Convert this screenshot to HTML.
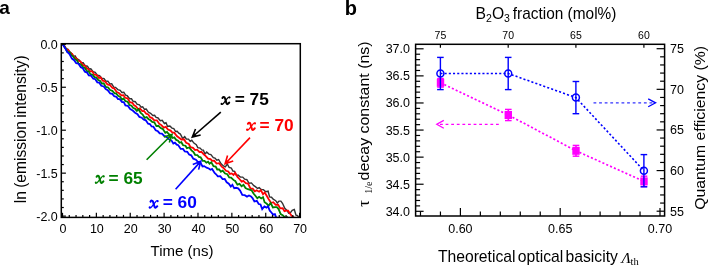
<!DOCTYPE html>
<html><head><meta charset="utf-8"><style>
html,body{margin:0;padding:0;background:#fff;width:709px;height:266px;overflow:hidden;}
svg{display:block;filter:blur(0.3px);font-family:"Liberation Sans", sans-serif;}
</style></head><body>
<svg width="709" height="266" viewBox="0 0 709 266">
<rect width="709" height="266" fill="#fff"/>
<text x="-0.70" y="14.30" font-size="19" text-anchor="start" font-weight="bold" font-family='"Liberation Sans", sans-serif' fill="#000" >a</text>
<defs><clipPath id="clipa"><rect x="61.3" y="43.7" width="239.0" height="173.7"/></clipPath></defs>
<polyline clip-path="url(#clipa)" points="62.6,44.2 63.9,44.7 65.9,48.3 68.0,49.3 69.5,51.8 71.1,52.8 73.6,56.3 75.1,55.8 76.8,58.6 79.2,60.0 81.3,62.8 83.2,62.7 85.2,65.8 87.4,66.2 89.2,69.0 90.8,68.7 93.1,71.7 95.2,72.4 97.3,75.2 99.6,75.7 101.6,78.2 104.1,78.7 105.8,81.1 107.9,81.2 109.8,83.9 111.7,83.8 113.8,87.1 115.5,87.3 117.8,89.6 120.2,90.4 121.8,92.4 123.8,92.2 125.6,95.2 127.2,95.7 129.6,98.8 131.5,98.8 133.1,101.3 135.3,101.7 137.0,104.2 139.4,104.9 141.1,107.2 142.7,106.8 144.4,109.3 146.2,109.0 148.2,112.0 150.6,113.3 152.8,115.5 154.6,115.3 156.1,117.4 157.8,117.7 160.3,120.8 162.2,120.4 164.4,123.5 166.0,122.7 167.5,126.3 169.9,126.0 172.0,128.1 173.8,128.6 175.6,131.5 177.2,131.2 178.8,133.1 180.4,134.1 182.7,138.5 184.7,136.5 186.3,139.0 188.5,139.1 190.2,141.4 191.8,140.3 193.9,143.1 196.3,144.7 197.8,147.6 200.1,148.1 201.8,149.9 203.4,150.2 204.9,154.0 206.7,152.0 208.9,154.1 210.9,154.6 213.3,157.6 215.0,158.1 216.8,160.1 218.6,159.5 221.1,163.8 223.5,166.0 225.3,166.9 227.3,164.0 229.1,167.3 231.3,168.0 232.9,171.0 234.5,171.3 236.4,175.4 238.1,175.1 240.4,177.0 242.7,177.1 244.7,179.2 246.9,179.7 249.1,183.3 251.4,182.9 253.8,185.6 255.4,186.6 257.6,188.5 259.2,187.7 261.2,189.5 263.4,189.6 265.8,191.7 268.1,191.2 269.6,196.9 271.5,197.2 273.2,199.2 275.7,200.7 277.3,203.0 279.0,201.1 280.9,201.1 282.5,203.3 284.8,208.3 287.0,210.4 288.6,213.2 290.6,212.4 292.2,210.3 294.3,209.5 296.0,215.1 297.6,215.6 299.2,218.4 301.3,218.1" fill="none" stroke="#333" stroke-width="1.4" stroke-linejoin="miter" stroke-opacity="1.0"/>
<polyline clip-path="url(#clipa)" points="62.6,44.2 64.2,45.8 66.7,49.7 68.5,50.2 70.3,53.2 72.2,54.0 74.0,57.2 76.3,58.5 78.0,60.6 80.5,61.5 83.0,65.3 84.6,65.3 86.7,68.3 88.4,69.2 90.3,71.3 92.3,71.3 94.3,74.6 96.4,74.9 98.9,77.9 100.8,77.5 102.6,80.7 104.8,81.2 107.4,84.4 110.0,85.1 112.5,88.0 114.1,88.3 116.7,92.0 118.9,93.0 121.4,95.3 123.4,95.1 125.2,97.8 127.6,98.4 129.9,102.2 132.3,102.8 134.1,105.3 135.8,106.1 138.2,109.2 139.8,108.4 142.3,111.1 144.0,111.0 146.2,113.7 148.3,114.4 150.2,117.4 151.9,117.8 154.3,120.3 156.9,120.3 159.2,123.7 161.4,125.1 163.7,127.6 165.9,126.9 168.0,129.6 170.6,130.6 172.4,132.6 174.2,132.6 176.8,136.1 179.4,138.0 181.4,139.5 183.9,139.3 186.2,142.8 188.8,144.0 190.4,147.0 193.0,147.8 195.1,150.1 197.1,149.7 199.4,152.0 201.6,151.9 203.7,154.3 205.5,155.8 208.1,158.6 210.5,159.1 212.2,160.9 214.2,160.7 216.6,163.6 219.1,163.2 221.7,166.7 223.5,167.9 226.0,170.8 228.3,171.5 229.9,173.9 231.7,173.4 233.5,174.9 235.2,172.8 237.5,177.0 239.4,179.0 241.7,181.6 243.3,180.9 245.8,183.1 248.1,183.6 250.5,188.6 252.7,188.7 254.8,191.4 256.6,190.3 259.1,191.7 260.9,190.1 263.0,194.3 264.7,192.5 266.4,195.3 268.7,199.2 271.2,203.0 273.3,202.2 275.7,204.8 278.1,204.7 280.3,208.4 282.7,208.2 284.5,211.2 286.3,210.7 288.1,210.7 289.6,213.1 291.3,215.3 293.6,217.4 296.2,220.5 297.8,218.5 300.1,222.8" fill="none" stroke="#ff0000" stroke-width="1.8" stroke-linejoin="miter" stroke-opacity="1.0"/>
<polyline clip-path="url(#clipa)" points="62.6,44.2 65.2,47.7 67.4,51.8 69.6,52.1 71.3,55.2 72.8,56.1 75.1,59.4 77.1,60.5 78.6,63.6 80.8,64.2 83.2,67.4 84.9,67.9 87.1,71.4 88.6,71.2 90.4,74.2 92.6,74.7 94.5,77.1 96.4,77.6 97.9,79.7 100.1,81.0 102.0,83.7 103.7,83.2 105.8,86.9 108.2,87.5 110.1,90.1 112.3,90.8 114.6,93.4 116.1,93.4 118.1,95.9 120.4,97.0 121.9,99.6 123.6,98.4 125.5,101.2 127.6,101.7 129.6,105.0 131.5,105.7 133.0,107.7 135.1,108.8 136.9,110.8 138.4,109.2 140.7,112.8 142.8,114.7 144.6,117.8 146.7,117.1 148.6,119.2 150.2,120.0 152.2,121.9 154.3,122.4 156.4,126.1 158.4,125.8 160.7,128.1 163.0,129.3 165.3,132.9 167.0,131.9 168.7,134.1 170.6,135.0 172.7,138.0 174.3,137.4 176.2,139.9 178.1,140.7 179.5,142.8 181.3,142.2 183.1,145.3 185.5,145.7 186.9,148.1 189.2,147.5 191.5,150.4 193.5,152.1 195.1,154.8 197.3,155.0 198.9,156.9 200.6,157.3 202.7,160.8 204.5,160.8 206.4,162.7 208.1,161.7 209.5,163.8 211.3,162.4 213.5,166.2 215.7,166.6 217.2,169.5 219.2,169.5 220.9,171.8 222.7,170.6 225.1,173.5 227.3,174.2 229.2,177.5 231.1,177.6 233.4,179.9 235.2,181.0 237.4,184.7 239.5,183.8 241.6,186.3 243.5,184.8 245.5,188.0 247.8,189.2 249.5,189.6 251.6,190.3 253.5,193.5 255.4,195.7 257.3,198.2 259.1,196.8 261.2,198.4 263.0,197.1 264.6,202.3 266.8,203.8 268.6,205.8 270.6,202.9 272.9,207.5 275.0,207.2 276.9,207.1 278.6,209.1 280.7,214.1 283.0,215.4 285.1,217.6 287.3,217.2 289.0,220.3 290.7,220.1" fill="none" stroke="#008000" stroke-width="1.8" stroke-linejoin="miter" stroke-opacity="1.0"/>
<polyline clip-path="url(#clipa)" points="62.6,44.2 65.3,48.4 67.2,51.9 69.5,54.1 71.9,58.6 74.1,60.2 76.2,63.2 78.5,63.7 80.8,67.3 82.8,68.2 84.9,71.7 87.2,72.7 88.8,75.4 91.0,75.7 93.3,78.7 95.3,79.2 97.3,82.3 99.1,82.5 101.3,85.8 103.8,86.5 105.7,89.1 107.7,90.2 110.2,93.5 112.3,93.9 114.2,96.2 116.5,96.9 118.0,99.1 119.7,99.2 122.1,102.1 123.8,102.2 125.4,105.4 127.9,105.9 130.2,109.1 132.7,110.5 135.1,112.7 137.5,114.2 139.4,116.9 141.7,117.7 143.5,119.4 145.8,120.3 148.1,123.7 149.9,124.1 151.6,126.5 153.3,126.6 155.7,130.3 157.9,131.3 159.7,133.4 161.9,133.7 164.2,135.9 166.4,136.8 169.0,139.3 171.4,140.4 173.3,143.5 174.9,142.6 176.7,144.7 178.3,145.2 180.7,148.9 183.0,148.9 184.8,151.5 187.3,151.8 189.1,154.5 191.2,155.3 193.3,158.7 195.9,159.7 198.3,162.4 200.0,161.6 202.5,166.4 204.2,166.1 206.6,167.7 208.8,168.5 210.5,169.8 212.1,169.0 214.6,173.0 216.1,174.3 217.8,176.4 220.3,176.1 222.6,179.1 224.7,179.0 226.7,182.3 228.8,183.7 230.8,186.6 232.4,184.9 234.2,188.3 236.1,187.8 238.1,188.4 240.1,190.6 242.3,194.9 244.7,195.2 247.0,196.6 249.0,195.5 251.0,196.5 252.5,198.1 254.4,201.5 256.8,200.8 258.7,204.0 260.5,204.5 262.2,209.1 264.4,206.4 266.4,207.6 268.0,206.3 269.8,210.7 271.4,212.5 273.1,214.6 274.9,214.1 276.5,218.3 279.1,218.8 281.3,222.0 282.9,220.6" fill="none" stroke="#0000ff" stroke-width="1.8" stroke-linejoin="miter" stroke-opacity="1.0"/>
<line x1="62.50" y1="217.40" x2="62.50" y2="212.80" stroke="#000" stroke-width="1.2" />
<line x1="69.27" y1="217.40" x2="69.27" y2="214.90" stroke="#000" stroke-width="1.2" />
<line x1="76.05" y1="217.40" x2="76.05" y2="214.90" stroke="#000" stroke-width="1.2" />
<line x1="82.82" y1="217.40" x2="82.82" y2="214.90" stroke="#000" stroke-width="1.2" />
<line x1="89.60" y1="217.40" x2="89.60" y2="214.90" stroke="#000" stroke-width="1.2" />
<line x1="96.37" y1="217.40" x2="96.37" y2="212.80" stroke="#000" stroke-width="1.2" />
<line x1="103.15" y1="217.40" x2="103.15" y2="214.90" stroke="#000" stroke-width="1.2" />
<line x1="109.92" y1="217.40" x2="109.92" y2="214.90" stroke="#000" stroke-width="1.2" />
<line x1="116.69" y1="217.40" x2="116.69" y2="214.90" stroke="#000" stroke-width="1.2" />
<line x1="123.47" y1="217.40" x2="123.47" y2="214.90" stroke="#000" stroke-width="1.2" />
<line x1="130.24" y1="217.40" x2="130.24" y2="212.80" stroke="#000" stroke-width="1.2" />
<line x1="137.02" y1="217.40" x2="137.02" y2="214.90" stroke="#000" stroke-width="1.2" />
<line x1="143.79" y1="217.40" x2="143.79" y2="214.90" stroke="#000" stroke-width="1.2" />
<line x1="150.57" y1="217.40" x2="150.57" y2="214.90" stroke="#000" stroke-width="1.2" />
<line x1="157.34" y1="217.40" x2="157.34" y2="214.90" stroke="#000" stroke-width="1.2" />
<line x1="164.11" y1="217.40" x2="164.11" y2="212.80" stroke="#000" stroke-width="1.2" />
<line x1="170.89" y1="217.40" x2="170.89" y2="214.90" stroke="#000" stroke-width="1.2" />
<line x1="177.66" y1="217.40" x2="177.66" y2="214.90" stroke="#000" stroke-width="1.2" />
<line x1="184.44" y1="217.40" x2="184.44" y2="214.90" stroke="#000" stroke-width="1.2" />
<line x1="191.21" y1="217.40" x2="191.21" y2="214.90" stroke="#000" stroke-width="1.2" />
<line x1="197.99" y1="217.40" x2="197.99" y2="212.80" stroke="#000" stroke-width="1.2" />
<line x1="204.76" y1="217.40" x2="204.76" y2="214.90" stroke="#000" stroke-width="1.2" />
<line x1="211.53" y1="217.40" x2="211.53" y2="214.90" stroke="#000" stroke-width="1.2" />
<line x1="218.31" y1="217.40" x2="218.31" y2="214.90" stroke="#000" stroke-width="1.2" />
<line x1="225.08" y1="217.40" x2="225.08" y2="214.90" stroke="#000" stroke-width="1.2" />
<line x1="231.86" y1="217.40" x2="231.86" y2="212.80" stroke="#000" stroke-width="1.2" />
<line x1="238.63" y1="217.40" x2="238.63" y2="214.90" stroke="#000" stroke-width="1.2" />
<line x1="245.41" y1="217.40" x2="245.41" y2="214.90" stroke="#000" stroke-width="1.2" />
<line x1="252.18" y1="217.40" x2="252.18" y2="214.90" stroke="#000" stroke-width="1.2" />
<line x1="258.95" y1="217.40" x2="258.95" y2="214.90" stroke="#000" stroke-width="1.2" />
<line x1="265.73" y1="217.40" x2="265.73" y2="212.80" stroke="#000" stroke-width="1.2" />
<line x1="272.50" y1="217.40" x2="272.50" y2="214.90" stroke="#000" stroke-width="1.2" />
<line x1="279.28" y1="217.40" x2="279.28" y2="214.90" stroke="#000" stroke-width="1.2" />
<line x1="286.05" y1="217.40" x2="286.05" y2="214.90" stroke="#000" stroke-width="1.2" />
<line x1="292.83" y1="217.40" x2="292.83" y2="214.90" stroke="#000" stroke-width="1.2" />
<line x1="299.60" y1="217.40" x2="299.60" y2="212.80" stroke="#000" stroke-width="1.2" />
<line x1="61.30" y1="44.30" x2="65.90" y2="44.30" stroke="#000" stroke-width="1.2" />
<line x1="61.30" y1="52.89" x2="63.80" y2="52.89" stroke="#000" stroke-width="1.2" />
<line x1="61.30" y1="61.48" x2="63.80" y2="61.48" stroke="#000" stroke-width="1.2" />
<line x1="61.30" y1="70.07" x2="63.80" y2="70.07" stroke="#000" stroke-width="1.2" />
<line x1="61.30" y1="78.66" x2="63.80" y2="78.66" stroke="#000" stroke-width="1.2" />
<line x1="61.30" y1="87.25" x2="65.90" y2="87.25" stroke="#000" stroke-width="1.2" />
<line x1="61.30" y1="95.84" x2="63.80" y2="95.84" stroke="#000" stroke-width="1.2" />
<line x1="61.30" y1="104.43" x2="63.80" y2="104.43" stroke="#000" stroke-width="1.2" />
<line x1="61.30" y1="113.02" x2="63.80" y2="113.02" stroke="#000" stroke-width="1.2" />
<line x1="61.30" y1="121.61" x2="63.80" y2="121.61" stroke="#000" stroke-width="1.2" />
<line x1="61.30" y1="130.20" x2="65.90" y2="130.20" stroke="#000" stroke-width="1.2" />
<line x1="61.30" y1="138.79" x2="63.80" y2="138.79" stroke="#000" stroke-width="1.2" />
<line x1="61.30" y1="147.38" x2="63.80" y2="147.38" stroke="#000" stroke-width="1.2" />
<line x1="61.30" y1="155.97" x2="63.80" y2="155.97" stroke="#000" stroke-width="1.2" />
<line x1="61.30" y1="164.56" x2="63.80" y2="164.56" stroke="#000" stroke-width="1.2" />
<line x1="61.30" y1="173.15" x2="65.90" y2="173.15" stroke="#000" stroke-width="1.2" />
<line x1="61.30" y1="181.74" x2="63.80" y2="181.74" stroke="#000" stroke-width="1.2" />
<line x1="61.30" y1="190.33" x2="63.80" y2="190.33" stroke="#000" stroke-width="1.2" />
<line x1="61.30" y1="198.92" x2="63.80" y2="198.92" stroke="#000" stroke-width="1.2" />
<line x1="61.30" y1="207.51" x2="63.80" y2="207.51" stroke="#000" stroke-width="1.2" />
<line x1="61.30" y1="216.10" x2="65.90" y2="216.10" stroke="#000" stroke-width="1.2" />
<rect x="61.30" y="43.70" width="239.00" height="173.70" fill="none" stroke="#000" stroke-width="1.5"/>
<text x="63.00" y="232.90" font-size="12.5" text-anchor="middle" font-weight="normal" font-family='"Liberation Sans", sans-serif' fill="#000" >0</text>
<text x="96.87" y="232.90" font-size="12.5" text-anchor="middle" font-weight="normal" font-family='"Liberation Sans", sans-serif' fill="#000" >10</text>
<text x="130.74" y="232.90" font-size="12.5" text-anchor="middle" font-weight="normal" font-family='"Liberation Sans", sans-serif' fill="#000" >20</text>
<text x="164.61" y="232.90" font-size="12.5" text-anchor="middle" font-weight="normal" font-family='"Liberation Sans", sans-serif' fill="#000" >30</text>
<text x="198.49" y="232.90" font-size="12.5" text-anchor="middle" font-weight="normal" font-family='"Liberation Sans", sans-serif' fill="#000" >40</text>
<text x="232.36" y="232.90" font-size="12.5" text-anchor="middle" font-weight="normal" font-family='"Liberation Sans", sans-serif' fill="#000" >50</text>
<text x="266.23" y="232.90" font-size="12.5" text-anchor="middle" font-weight="normal" font-family='"Liberation Sans", sans-serif' fill="#000" >60</text>
<text x="300.10" y="232.90" font-size="12.5" text-anchor="middle" font-weight="normal" font-family='"Liberation Sans", sans-serif' fill="#000" >70</text>
<text x="57.80" y="48.70" font-size="12.5" text-anchor="end" font-weight="normal" font-family='"Liberation Sans", sans-serif' fill="#000" >0.0</text>
<text x="57.80" y="91.65" font-size="12.5" text-anchor="end" font-weight="normal" font-family='"Liberation Sans", sans-serif' fill="#000" >-0.5</text>
<text x="57.80" y="134.60" font-size="12.5" text-anchor="end" font-weight="normal" font-family='"Liberation Sans", sans-serif' fill="#000" >-1.0</text>
<text x="57.80" y="177.55" font-size="12.5" text-anchor="end" font-weight="normal" font-family='"Liberation Sans", sans-serif' fill="#000" >-1.5</text>
<text x="57.80" y="220.50" font-size="12.5" text-anchor="end" font-weight="normal" font-family='"Liberation Sans", sans-serif' fill="#000" >-2.0</text>
<text x="182.00" y="255.60" font-size="15" text-anchor="middle" font-weight="normal" font-family='"Liberation Sans", sans-serif' fill="#000" >Time (ns)</text>
<text transform="translate(25.9,203.3) rotate(-90)" font-size="15.6" word-spacing="-1.0" font-family='"Liberation Sans", sans-serif' fill="#000">ln (emission intensity)</text>
<g transform="translate(220.50,96.30)"><path d="M1.9,1.7 C2.8,0.3 4.0,0.4 4.5,2.0 L5.9,6.8 C6.3,8.3 7.3,8.2 8.7,6.3" fill="none" stroke="#000" stroke-width="2.0" stroke-linecap="round"/><path d="M9.2,1.0 C8.4,0.5 7.5,1.2 6.6,2.4 L3.0,7.0 C2.3,7.9 1.6,8.3 0.9,7.9" fill="none" stroke="#000" stroke-width="1.25" stroke-linecap="round"/><circle cx="9.0" cy="1.3" r="1.0" fill="#000"/><circle cx="1.1" cy="7.5" r="1.05" fill="#000"/></g>
<text x="234.70" y="104.70" font-size="17.3" font-weight="bold" font-family='"Liberation Sans", sans-serif' fill="#000">= 75</text>
<line x1="220.80" y1="112.20" x2="193.43" y2="136.02" stroke="#000" stroke-width="1.6" />
<polyline points="195.52,129.02 192.30,137.00 200.64,134.92" fill="none" stroke="#000" stroke-width="1.6" stroke-linejoin="miter" stroke-miterlimit="10"/>
<polygon points="193.98,132.83 192.30,137.00 196.67,135.91" fill="#000"/>
<g transform="translate(246.00,122.10)"><path d="M1.9,1.7 C2.8,0.3 4.0,0.4 4.5,2.0 L5.9,6.8 C6.3,8.3 7.3,8.2 8.7,6.3" fill="none" stroke="#ff0000" stroke-width="2.0" stroke-linecap="round"/><path d="M9.2,1.0 C8.4,0.5 7.5,1.2 6.6,2.4 L3.0,7.0 C2.3,7.9 1.6,8.3 0.9,7.9" fill="none" stroke="#ff0000" stroke-width="1.25" stroke-linecap="round"/><circle cx="9.0" cy="1.3" r="1.0" fill="#ff0000"/><circle cx="1.1" cy="7.5" r="1.05" fill="#ff0000"/></g>
<text x="259.60" y="130.50" font-size="17.3" font-weight="bold" font-family='"Liberation Sans", sans-serif' fill="#ff0000">= 70</text>
<line x1="250.00" y1="137.60" x2="226.13" y2="162.71" stroke="#ff0000" stroke-width="1.6" />
<polyline points="227.55,155.56 225.10,163.80 233.21,160.94" fill="none" stroke="#ff0000" stroke-width="1.6" stroke-linejoin="miter" stroke-miterlimit="10"/>
<polygon points="226.38,159.49 225.10,163.80 229.34,162.30" fill="#ff0000"/>
<g transform="translate(94.70,175.10)"><path d="M1.9,1.7 C2.8,0.3 4.0,0.4 4.5,2.0 L5.9,6.8 C6.3,8.3 7.3,8.2 8.7,6.3" fill="none" stroke="#008000" stroke-width="2.0" stroke-linecap="round"/><path d="M9.2,1.0 C8.4,0.5 7.5,1.2 6.6,2.4 L3.0,7.0 C2.3,7.9 1.6,8.3 0.9,7.9" fill="none" stroke="#008000" stroke-width="1.25" stroke-linecap="round"/><circle cx="9.0" cy="1.3" r="1.0" fill="#008000"/><circle cx="1.1" cy="7.5" r="1.05" fill="#008000"/></g>
<text x="108.60" y="183.50" font-size="17.3" font-weight="bold" font-family='"Liberation Sans", sans-serif' fill="#008000">= 65</text>
<line x1="146.60" y1="159.70" x2="170.94" y2="135.46" stroke="#008000" stroke-width="1.6" />
<polyline points="169.33,142.57 172.00,134.40 163.82,137.04" fill="none" stroke="#008000" stroke-width="1.6" stroke-linejoin="miter" stroke-miterlimit="10"/>
<polygon points="170.60,138.68 172.00,134.40 167.72,135.78" fill="#008000"/>
<g transform="translate(148.60,199.90)"><path d="M1.9,1.7 C2.8,0.3 4.0,0.4 4.5,2.0 L5.9,6.8 C6.3,8.3 7.3,8.2 8.7,6.3" fill="none" stroke="#0000ff" stroke-width="2.0" stroke-linecap="round"/><path d="M9.2,1.0 C8.4,0.5 7.5,1.2 6.6,2.4 L3.0,7.0 C2.3,7.9 1.6,8.3 0.9,7.9" fill="none" stroke="#0000ff" stroke-width="1.25" stroke-linecap="round"/><circle cx="9.0" cy="1.3" r="1.0" fill="#0000ff"/><circle cx="1.1" cy="7.5" r="1.05" fill="#0000ff"/></g>
<text x="162.70" y="208.30" font-size="17.3" font-weight="bold" font-family='"Liberation Sans", sans-serif' fill="#0000ff">= 60</text>
<line x1="175.60" y1="189.30" x2="199.80" y2="162.41" stroke="#0000ff" stroke-width="1.6" />
<polyline points="198.58,169.61 200.80,161.30 192.77,164.38" fill="none" stroke="#0000ff" stroke-width="1.6" stroke-linejoin="miter" stroke-miterlimit="10"/>
<polygon points="199.64,165.65 200.80,161.30 196.60,162.91" fill="#0000ff"/>
<text x="344.70" y="14.70" font-size="20" text-anchor="start" font-weight="bold" font-family='"Liberation Sans", sans-serif' fill="#000" >b</text>
<rect x="415.60" y="44.30" width="249.00" height="171.70" fill="none" stroke="#000" stroke-width="1.5"/>
<line x1="415.60" y1="211.31" x2="423.60" y2="211.31" stroke="#000" stroke-width="1.2" />
<line x1="415.60" y1="205.89" x2="420.10" y2="205.89" stroke="#000" stroke-width="1.2" />
<line x1="415.60" y1="200.48" x2="420.10" y2="200.48" stroke="#000" stroke-width="1.2" />
<line x1="415.60" y1="195.06" x2="420.10" y2="195.06" stroke="#000" stroke-width="1.2" />
<line x1="415.60" y1="189.64" x2="420.10" y2="189.64" stroke="#000" stroke-width="1.2" />
<line x1="415.60" y1="184.23" x2="423.60" y2="184.23" stroke="#000" stroke-width="1.2" />
<line x1="415.60" y1="178.81" x2="420.10" y2="178.81" stroke="#000" stroke-width="1.2" />
<line x1="415.60" y1="173.39" x2="420.10" y2="173.39" stroke="#000" stroke-width="1.2" />
<line x1="415.60" y1="167.97" x2="420.10" y2="167.97" stroke="#000" stroke-width="1.2" />
<line x1="415.60" y1="162.56" x2="420.10" y2="162.56" stroke="#000" stroke-width="1.2" />
<line x1="415.60" y1="157.14" x2="423.60" y2="157.14" stroke="#000" stroke-width="1.2" />
<line x1="415.60" y1="151.72" x2="420.10" y2="151.72" stroke="#000" stroke-width="1.2" />
<line x1="415.60" y1="146.31" x2="420.10" y2="146.31" stroke="#000" stroke-width="1.2" />
<line x1="415.60" y1="140.89" x2="420.10" y2="140.89" stroke="#000" stroke-width="1.2" />
<line x1="415.60" y1="135.47" x2="420.10" y2="135.47" stroke="#000" stroke-width="1.2" />
<line x1="415.60" y1="130.06" x2="423.60" y2="130.06" stroke="#000" stroke-width="1.2" />
<line x1="415.60" y1="124.64" x2="420.10" y2="124.64" stroke="#000" stroke-width="1.2" />
<line x1="415.60" y1="119.22" x2="420.10" y2="119.22" stroke="#000" stroke-width="1.2" />
<line x1="415.60" y1="113.80" x2="420.10" y2="113.80" stroke="#000" stroke-width="1.2" />
<line x1="415.60" y1="108.39" x2="420.10" y2="108.39" stroke="#000" stroke-width="1.2" />
<line x1="415.60" y1="102.97" x2="423.60" y2="102.97" stroke="#000" stroke-width="1.2" />
<line x1="415.60" y1="97.55" x2="420.10" y2="97.55" stroke="#000" stroke-width="1.2" />
<line x1="415.60" y1="92.14" x2="420.10" y2="92.14" stroke="#000" stroke-width="1.2" />
<line x1="415.60" y1="86.72" x2="420.10" y2="86.72" stroke="#000" stroke-width="1.2" />
<line x1="415.60" y1="81.30" x2="420.10" y2="81.30" stroke="#000" stroke-width="1.2" />
<line x1="415.60" y1="75.88" x2="423.60" y2="75.88" stroke="#000" stroke-width="1.2" />
<line x1="415.60" y1="70.47" x2="420.10" y2="70.47" stroke="#000" stroke-width="1.2" />
<line x1="415.60" y1="65.05" x2="420.10" y2="65.05" stroke="#000" stroke-width="1.2" />
<line x1="415.60" y1="59.63" x2="420.10" y2="59.63" stroke="#000" stroke-width="1.2" />
<line x1="415.60" y1="54.22" x2="420.10" y2="54.22" stroke="#000" stroke-width="1.2" />
<line x1="415.60" y1="48.80" x2="423.60" y2="48.80" stroke="#000" stroke-width="1.2" />
<line x1="664.60" y1="211.20" x2="656.60" y2="211.20" stroke="#000" stroke-width="1.2" />
<line x1="664.60" y1="203.07" x2="660.10" y2="203.07" stroke="#000" stroke-width="1.2" />
<line x1="664.60" y1="194.95" x2="660.10" y2="194.95" stroke="#000" stroke-width="1.2" />
<line x1="664.60" y1="186.82" x2="660.10" y2="186.82" stroke="#000" stroke-width="1.2" />
<line x1="664.60" y1="178.70" x2="660.10" y2="178.70" stroke="#000" stroke-width="1.2" />
<line x1="664.60" y1="170.57" x2="656.60" y2="170.57" stroke="#000" stroke-width="1.2" />
<line x1="664.60" y1="162.45" x2="660.10" y2="162.45" stroke="#000" stroke-width="1.2" />
<line x1="664.60" y1="154.32" x2="660.10" y2="154.32" stroke="#000" stroke-width="1.2" />
<line x1="664.60" y1="146.20" x2="660.10" y2="146.20" stroke="#000" stroke-width="1.2" />
<line x1="664.60" y1="138.07" x2="660.10" y2="138.07" stroke="#000" stroke-width="1.2" />
<line x1="664.60" y1="129.95" x2="656.60" y2="129.95" stroke="#000" stroke-width="1.2" />
<line x1="664.60" y1="121.83" x2="660.10" y2="121.83" stroke="#000" stroke-width="1.2" />
<line x1="664.60" y1="113.70" x2="660.10" y2="113.70" stroke="#000" stroke-width="1.2" />
<line x1="664.60" y1="105.58" x2="660.10" y2="105.58" stroke="#000" stroke-width="1.2" />
<line x1="664.60" y1="97.45" x2="660.10" y2="97.45" stroke="#000" stroke-width="1.2" />
<line x1="664.60" y1="89.33" x2="656.60" y2="89.33" stroke="#000" stroke-width="1.2" />
<line x1="664.60" y1="81.20" x2="660.10" y2="81.20" stroke="#000" stroke-width="1.2" />
<line x1="664.60" y1="73.08" x2="660.10" y2="73.08" stroke="#000" stroke-width="1.2" />
<line x1="664.60" y1="64.95" x2="660.10" y2="64.95" stroke="#000" stroke-width="1.2" />
<line x1="664.60" y1="56.83" x2="660.10" y2="56.83" stroke="#000" stroke-width="1.2" />
<line x1="664.60" y1="48.70" x2="656.60" y2="48.70" stroke="#000" stroke-width="1.2" />
<line x1="420.48" y1="216.00" x2="420.48" y2="211.50" stroke="#000" stroke-width="1.2" />
<line x1="440.44" y1="216.00" x2="440.44" y2="211.50" stroke="#000" stroke-width="1.2" />
<line x1="460.40" y1="216.00" x2="460.40" y2="208.00" stroke="#000" stroke-width="1.2" />
<line x1="480.36" y1="216.00" x2="480.36" y2="211.50" stroke="#000" stroke-width="1.2" />
<line x1="500.32" y1="216.00" x2="500.32" y2="211.50" stroke="#000" stroke-width="1.2" />
<line x1="520.28" y1="216.00" x2="520.28" y2="211.50" stroke="#000" stroke-width="1.2" />
<line x1="540.24" y1="216.00" x2="540.24" y2="211.50" stroke="#000" stroke-width="1.2" />
<line x1="560.20" y1="216.00" x2="560.20" y2="208.00" stroke="#000" stroke-width="1.2" />
<line x1="580.16" y1="216.00" x2="580.16" y2="211.50" stroke="#000" stroke-width="1.2" />
<line x1="600.12" y1="216.00" x2="600.12" y2="211.50" stroke="#000" stroke-width="1.2" />
<line x1="620.08" y1="216.00" x2="620.08" y2="211.50" stroke="#000" stroke-width="1.2" />
<line x1="640.04" y1="216.00" x2="640.04" y2="211.50" stroke="#000" stroke-width="1.2" />
<line x1="660.00" y1="216.00" x2="660.00" y2="208.00" stroke="#000" stroke-width="1.2" />
<line x1="440.40" y1="44.30" x2="440.40" y2="47.80" stroke="#000" stroke-width="1.2" />
<text x="440.40" y="38.60" font-size="10.5" text-anchor="middle" font-weight="normal" font-family='"Liberation Sans", sans-serif' fill="#000" >75</text>
<line x1="508.20" y1="44.30" x2="508.20" y2="47.80" stroke="#000" stroke-width="1.2" />
<text x="508.20" y="38.60" font-size="10.5" text-anchor="middle" font-weight="normal" font-family='"Liberation Sans", sans-serif' fill="#000" >70</text>
<line x1="575.90" y1="44.30" x2="575.90" y2="47.80" stroke="#000" stroke-width="1.2" />
<text x="575.90" y="38.60" font-size="10.5" text-anchor="middle" font-weight="normal" font-family='"Liberation Sans", sans-serif' fill="#000" >65</text>
<line x1="643.90" y1="44.30" x2="643.90" y2="47.80" stroke="#000" stroke-width="1.2" />
<text x="643.90" y="38.60" font-size="10.5" text-anchor="middle" font-weight="normal" font-family='"Liberation Sans", sans-serif' fill="#000" >60</text>
<text x="410.00" y="53.30" font-size="12.5" text-anchor="end" font-weight="normal" font-family='"Liberation Sans", sans-serif' fill="#000" >37.0</text>
<text x="410.00" y="80.38" font-size="12.5" text-anchor="end" font-weight="normal" font-family='"Liberation Sans", sans-serif' fill="#000" >36.5</text>
<text x="410.00" y="107.47" font-size="12.5" text-anchor="end" font-weight="normal" font-family='"Liberation Sans", sans-serif' fill="#000" >36.0</text>
<text x="410.00" y="134.56" font-size="12.5" text-anchor="end" font-weight="normal" font-family='"Liberation Sans", sans-serif' fill="#000" >35.5</text>
<text x="410.00" y="161.64" font-size="12.5" text-anchor="end" font-weight="normal" font-family='"Liberation Sans", sans-serif' fill="#000" >35.0</text>
<text x="410.00" y="188.73" font-size="12.5" text-anchor="end" font-weight="normal" font-family='"Liberation Sans", sans-serif' fill="#000" >34.5</text>
<text x="410.00" y="215.81" font-size="12.5" text-anchor="end" font-weight="normal" font-family='"Liberation Sans", sans-serif' fill="#000" >34.0</text>
<text x="670.00" y="53.20" font-size="12.5" text-anchor="start" font-weight="normal" font-family='"Liberation Sans", sans-serif' fill="#000" >75</text>
<text x="670.00" y="93.83" font-size="12.5" text-anchor="start" font-weight="normal" font-family='"Liberation Sans", sans-serif' fill="#000" >70</text>
<text x="670.00" y="134.45" font-size="12.5" text-anchor="start" font-weight="normal" font-family='"Liberation Sans", sans-serif' fill="#000" >65</text>
<text x="670.00" y="175.07" font-size="12.5" text-anchor="start" font-weight="normal" font-family='"Liberation Sans", sans-serif' fill="#000" >60</text>
<text x="670.00" y="215.70" font-size="12.5" text-anchor="start" font-weight="normal" font-family='"Liberation Sans", sans-serif' fill="#000" >55</text>
<text x="460.40" y="232.50" font-size="12.5" text-anchor="middle" font-weight="normal" font-family='"Liberation Sans", sans-serif' fill="#000" >0.60</text>
<text x="560.20" y="232.50" font-size="12.5" text-anchor="middle" font-weight="normal" font-family='"Liberation Sans", sans-serif' fill="#000" >0.65</text>
<text x="660.00" y="232.50" font-size="12.5" text-anchor="middle" font-weight="normal" font-family='"Liberation Sans", sans-serif' fill="#000" >0.70</text>
<text x="475.6" y="18.8" font-size="15.7" font-family='"Liberation Sans", sans-serif' fill="#000">B<tspan font-size="10.5" dy="3.6">2</tspan><tspan dy="-3.6">O</tspan><tspan font-size="10.5" dy="3.6">3</tspan></text>
<text x="512.8" y="18.8" font-size="15.7" font-family='"Liberation Sans", sans-serif' fill="#000" textLength="103.6" lengthAdjust="spacingAndGlyphs">fraction (mol%)</text>
<text x="437.9" y="262.3" font-size="15.7" word-spacing="-2" font-family='"Liberation Sans", sans-serif' fill="#000">Theoretical optical basicity</text>
<text x="621.4" y="262.5" font-size="15.5" font-family='"Liberation Serif", serif' font-style="italic" fill="#000">Λ</text>
<text x="630.6" y="265.0" font-size="10.5" font-family='"Liberation Serif", serif' fill="#000">th</text>
<text transform="translate(705.2,209.8) rotate(-90)" font-size="15" font-family='"Liberation Sans", sans-serif' fill="#000" textLength="163.8" lengthAdjust="spacingAndGlyphs">Quantum efficiency (%)</text>
<text transform="translate(369.2,206.7) rotate(-90)" font-size="16.5" font-family='"Liberation Serif", serif' fill="#000">τ</text>
<text transform="translate(372.3,193.8) rotate(-90)" font-size="10" font-family='"Liberation Serif", serif' fill="#000">1/e</text>
<text transform="translate(368.5,180.4) rotate(-90)" font-size="15" font-family='"Liberation Sans", sans-serif' fill="#000" textLength="139" lengthAdjust="spacingAndGlyphs">decay constant (ns)</text>
<polyline points="440.4,73.5 508.2,73.5 575.9,97.6 643.9,170.7" fill="none" stroke="#0000ff" stroke-width="1.6" stroke-dasharray="2.1 2.1"/>
<polyline points="440.5,82.8 508.3,115.0 576.0,150.8 644.0,181.4" fill="none" stroke="#ff00ff" stroke-width="1.7" stroke-dasharray="2.1 2.1"/>
<line x1="440.50" y1="78.50" x2="440.50" y2="87.10" stroke="#ff00ff" stroke-width="1.6" />
<line x1="437.20" y1="78.50" x2="443.80" y2="78.50" stroke="#ff00ff" stroke-width="1.4" />
<line x1="437.20" y1="87.10" x2="443.80" y2="87.10" stroke="#ff00ff" stroke-width="1.4" />
<rect x="436.80" y="78.80" width="7.4" height="8.0" fill="#ff00ff"/>
<line x1="508.30" y1="109.40" x2="508.30" y2="120.60" stroke="#ff00ff" stroke-width="1.6" />
<line x1="505.00" y1="109.40" x2="511.60" y2="109.40" stroke="#ff00ff" stroke-width="1.4" />
<line x1="505.00" y1="120.60" x2="511.60" y2="120.60" stroke="#ff00ff" stroke-width="1.4" />
<rect x="504.60" y="111.00" width="7.4" height="8.0" fill="#ff00ff"/>
<line x1="576.00" y1="145.40" x2="576.00" y2="156.20" stroke="#ff00ff" stroke-width="1.6" />
<line x1="572.70" y1="145.40" x2="579.30" y2="145.40" stroke="#ff00ff" stroke-width="1.4" />
<line x1="572.70" y1="156.20" x2="579.30" y2="156.20" stroke="#ff00ff" stroke-width="1.4" />
<rect x="572.30" y="146.80" width="7.4" height="8.0" fill="#ff00ff"/>
<line x1="644.00" y1="176.20" x2="644.00" y2="186.60" stroke="#ff00ff" stroke-width="1.6" />
<line x1="640.70" y1="176.20" x2="647.30" y2="176.20" stroke="#ff00ff" stroke-width="1.4" />
<line x1="640.70" y1="186.60" x2="647.30" y2="186.60" stroke="#ff00ff" stroke-width="1.4" />
<rect x="640.30" y="177.40" width="7.4" height="8.0" fill="#ff00ff"/>
<line x1="440.40" y1="57.40" x2="440.40" y2="89.60" stroke="#0000ff" stroke-width="1.4" />
<line x1="437.10" y1="57.40" x2="443.70" y2="57.40" stroke="#0000ff" stroke-width="1.4" />
<line x1="437.10" y1="89.60" x2="443.70" y2="89.60" stroke="#0000ff" stroke-width="1.4" />
<circle cx="440.4" cy="73.5" r="3.5" fill="none" stroke="#0000ff" stroke-width="1.5"/>
<line x1="508.20" y1="57.40" x2="508.20" y2="89.60" stroke="#0000ff" stroke-width="1.4" />
<line x1="504.90" y1="57.40" x2="511.50" y2="57.40" stroke="#0000ff" stroke-width="1.4" />
<line x1="504.90" y1="89.60" x2="511.50" y2="89.60" stroke="#0000ff" stroke-width="1.4" />
<circle cx="508.2" cy="73.5" r="3.5" fill="none" stroke="#0000ff" stroke-width="1.5"/>
<line x1="575.90" y1="81.50" x2="575.90" y2="113.70" stroke="#0000ff" stroke-width="1.4" />
<line x1="572.60" y1="81.50" x2="579.20" y2="81.50" stroke="#0000ff" stroke-width="1.4" />
<line x1="572.60" y1="113.70" x2="579.20" y2="113.70" stroke="#0000ff" stroke-width="1.4" />
<circle cx="575.9" cy="97.6" r="3.5" fill="none" stroke="#0000ff" stroke-width="1.5"/>
<line x1="643.90" y1="154.60" x2="643.90" y2="186.80" stroke="#0000ff" stroke-width="1.4" />
<line x1="640.60" y1="154.60" x2="647.20" y2="154.60" stroke="#0000ff" stroke-width="1.4" />
<line x1="640.60" y1="186.80" x2="647.20" y2="186.80" stroke="#0000ff" stroke-width="1.4" />
<circle cx="643.9" cy="170.7" r="3.5" fill="none" stroke="#0000ff" stroke-width="1.5"/>
<line x1="593.5" y1="102.8" x2="654" y2="102.8" stroke="#3333ff" stroke-width="1.3" stroke-dasharray="2.8 2.8"/>
<polyline points="648.2,98.9 655.6,102.8 648.2,106.8" fill="none" stroke="#0000ff" stroke-width="1.3"/>
<line x1="498.8" y1="124.3" x2="438.5" y2="124.3" stroke="#ff00ff" stroke-width="1.3" stroke-dasharray="2.8 2.8"/>
<polyline points="443.8,120.4 436.8,124.3 443.8,128.3" fill="none" stroke="#ff00ff" stroke-width="1.3"/>
</svg>
</body></html>
